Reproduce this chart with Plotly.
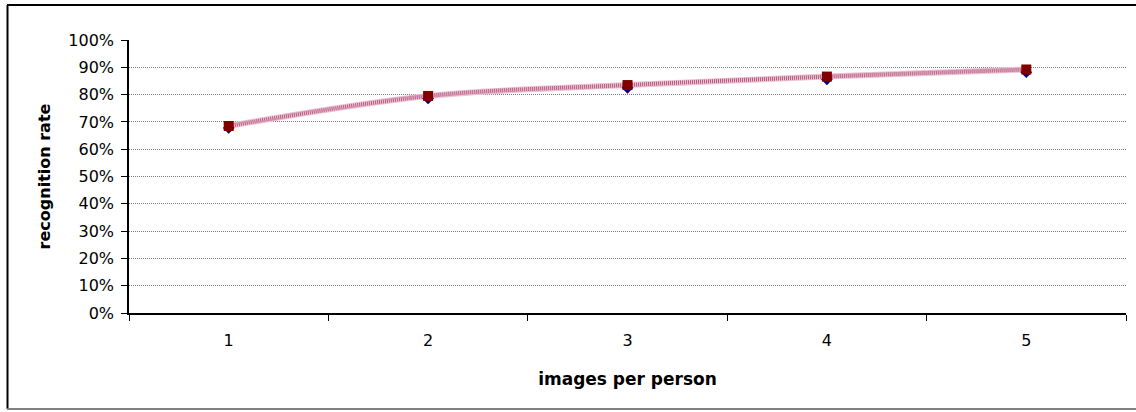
import plotly.graph_objects as go

# Recognition rate vs. number of training images per person
categories = ["1", "2", "3", "4", "5"]
rate_a = [0.678, 0.786, 0.825, 0.856, 0.882]   # diamond series
rate_b = [0.685, 0.795, 0.835, 0.866, 0.892]   # square series
y_ticks = [i / 10 for i in range(11)]

FONT = "DejaVu Sans, Liberation Sans, Arial, sans-serif"

fig = go.Figure()

# smoothed, hatched-looking connector: light base with a fine dotted overlay
fig.add_trace(go.Scatter(
    x=categories, y=rate_b, mode="lines",
    line=dict(color="#ecc3d1", width=6, shape="spline", smoothing=1),
    hoverinfo="skip", showlegend=False,
))
fig.add_trace(go.Scatter(
    x=categories, y=rate_b, mode="lines",
    line=dict(color="#b65a82", width=4, shape="spline", smoothing=1, dash="1px,1px"),
    hoverinfo="skip", showlegend=False,
))
fig.add_trace(go.Scatter(
    x=categories, y=rate_a, mode="markers",
    marker=dict(symbol="diamond", size=9, color="#000080"),
    showlegend=False,
))
fig.add_trace(go.Scatter(
    x=categories, y=rate_b, mode="markers",
    marker=dict(symbol="square", size=10, color="#800000"),
    showlegend=False,
))

fig.update_layout(
    width=1136, height=412,
    margin=dict(l=129, r=10, t=40, b=99),
    paper_bgcolor="white", plot_bgcolor="white",
    font=dict(family=FONT, size=16, color="black"),
    xaxis=dict(
        type="category", range=[-0.5, 4.5],
        tickson="boundaries", ticks="outside", ticklen=6, tickcolor="black",
        showline=True, linecolor="black", linewidth=1.5,
        showgrid=False, zeroline=False,
        tickfont=dict(size=16), ticklabelstandoff=12,
        title=dict(text="<b>images per person</b>", font=dict(size=17), standoff=24),
    ),
    yaxis=dict(
        range=[0, 1], tickvals=y_ticks, tickformat=".0%",
        ticks="outside", ticklen=6, tickcolor="black",
        showline=True, linecolor="black", linewidth=1.5,
        showgrid=True, gridcolor="#7a7a7a", gridwidth=1, griddash="1px,1px",
        zeroline=False, tickfont=dict(size=16), ticklabelstandoff=4,
        title=dict(text="<b>recognition rate</b>", font=dict(size=16), standoff=14),
    ),
)

# outer chart frame
fig.add_shape(type="line", xref="paper", yref="paper",
              x0=-122 / 997, x1=1.02, y0=1 + 35 / 273, y1=1 + 35 / 273,
              line=dict(color="black", width=2))
fig.add_shape(type="line", xref="paper", yref="paper",
              x0=-121.5 / 997, x1=-121.5 / 997, y0=1 + 35 / 273, y1=-96 / 273,
              line=dict(color="black", width=2))
fig.add_shape(type="line", xref="paper", yref="paper",
              x0=-122 / 997, x1=1.02, y0=-96 / 273, y1=-96 / 273,
              line=dict(color="#808080", width=2))

fig.write_html("out.html")
